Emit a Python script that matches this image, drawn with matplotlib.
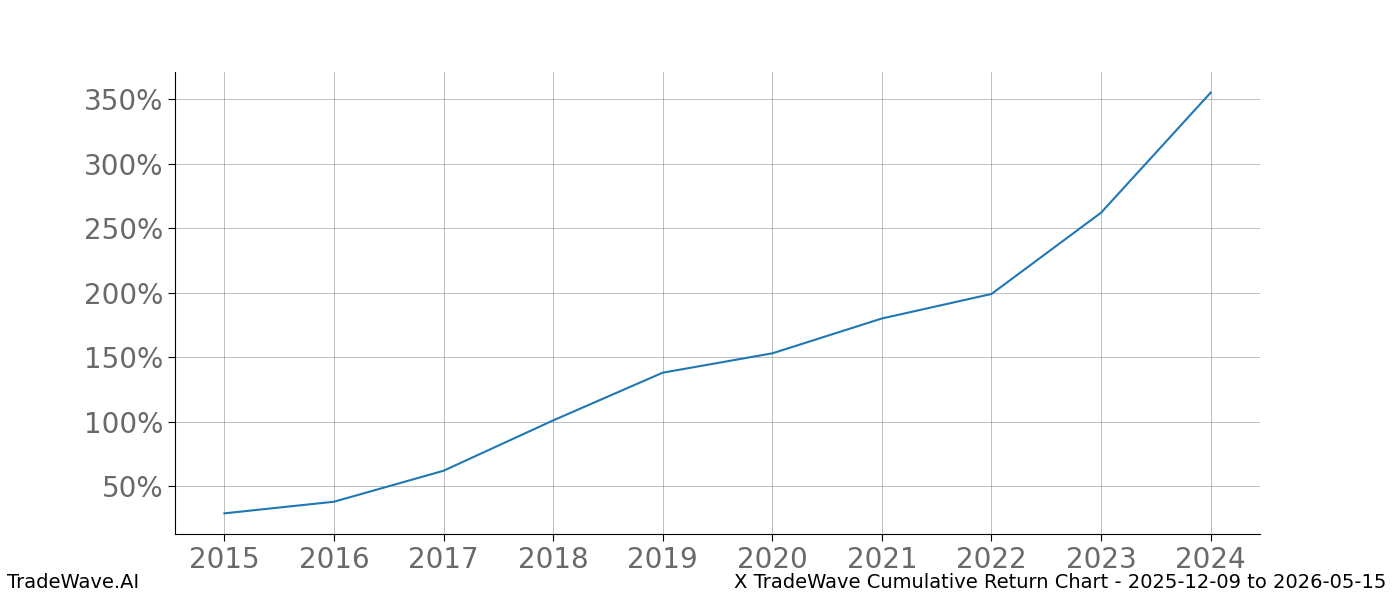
import matplotlib.pyplot as plt
from matplotlib.ticker import FuncFormatter

years = [2015, 2016, 2017, 2018, 2019, 2020, 2021, 2022, 2023, 2024]
returns = [29, 38, 62, 101, 138, 153, 180, 199, 262, 355]

fig = plt.figure(figsize=(14, 6), dpi=100)
ax = fig.add_axes([0.125, 0.11, 0.775, 0.77])
ax.plot(years, returns, color='#1f77b4', linewidth=1.5)

ax.set_xticks(years)
ax.set_yticks([50, 100, 150, 200, 250, 300, 350])
ax.yaxis.set_major_formatter(FuncFormatter(lambda v, p: f'{v:.0f}%'))
ax.set_xlim(2014.55, 2024.45)
ax.set_ylim(13, 371)
ax.tick_params(labelsize=20, colors='dimgray', length=5)
ax.tick_params(axis='both', color='black')
ax.grid(True, color='gray', linewidth=0.5, alpha=0.7)
ax.spines['top'].set_visible(False)
ax.spines['right'].set_visible(False)

fig.text(0.005, 0.02, 'TradeWave.AI', fontsize=14)
fig.text(0.99, 0.02, 'X TradeWave Cumulative Return Chart - 2025-12-09 to 2026-05-15',
         fontsize=14, ha='right')

fig.savefig('out.png')
